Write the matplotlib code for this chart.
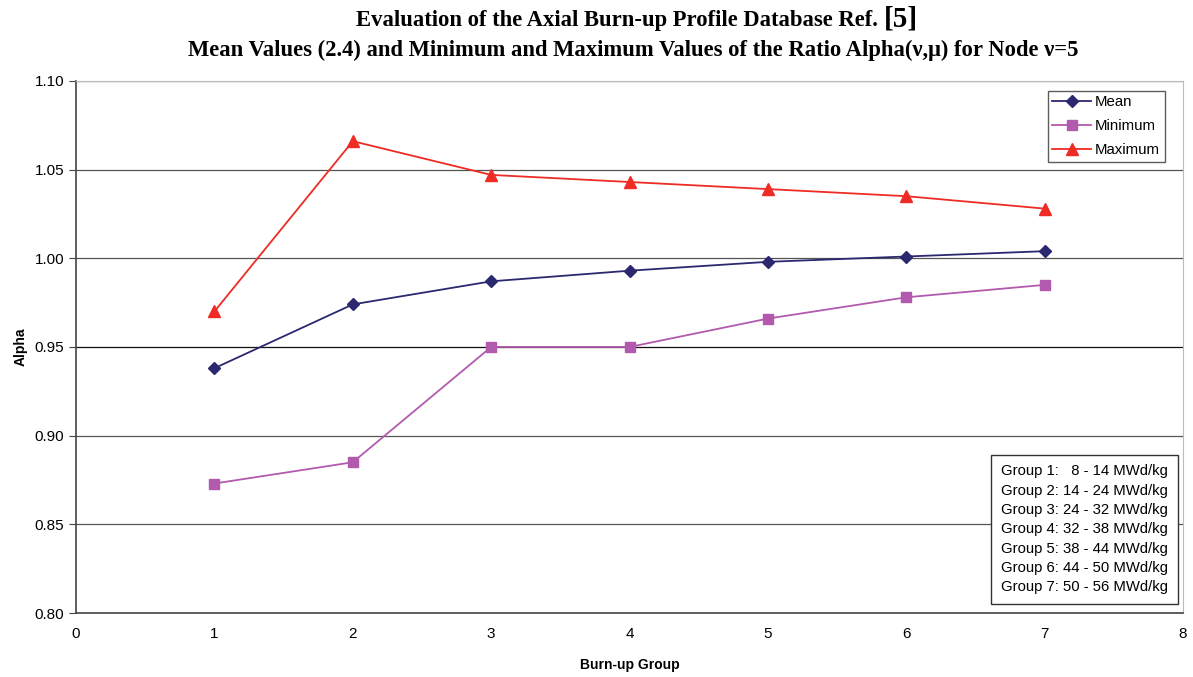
import matplotlib
matplotlib.use("Agg")
import matplotlib.pyplot as plt
from matplotlib.offsetbox import AnchoredText

plt.rcParams.update({
    "font.family": "Liberation Sans",
    "font.size": 11,
})

groups = [1, 2, 3, 4, 5, 6, 7]
mean_vals = [0.938, 0.974, 0.987, 0.993, 0.998, 1.001, 1.004]
min_vals = [0.873, 0.885, 0.950, 0.950, 0.966, 0.978, 0.985]
max_vals = [0.970, 1.066, 1.047, 1.043, 1.039, 1.035, 1.028]
group_ranges = ["  8 - 14", "14 - 24", "24 - 32", "32 - 38", "38 - 44", "44 - 50", "50 - 56"]

NAVY = "#2B2870"
MAGENTA = "#B25AAE"
RED = "#EE2B24"

fig = plt.figure(figsize=(11.93, 6.77), dpi=100)
ax = fig.add_axes([0.0637, 0.0945, 0.928, 0.786])

ax.plot(groups, mean_vals, "-D", color=NAVY, lw=1.3, ms=6, label="Mean", zorder=5)
ax.plot(groups, min_vals, "-s", color=MAGENTA, lw=1.3, ms=7, label="Minimum", zorder=5)
ax.plot(groups, max_vals, "-^", color=RED, lw=1.3, ms=8, label="Maximum", zorder=5)

ax.set_xlim(0, 8)
ax.set_ylim(0.80, 1.10)
ax.set_xticks(range(0, 9))
ax.set_yticks([0.80, 0.85, 0.90, 0.95, 1.00, 1.05, 1.10])
ax.set_yticklabels([f"{v:.2f}" for v in ax.get_yticks()])
ax.tick_params(axis="both", labelsize=11, color="#444444", length=5)
ax.tick_params(axis="x", length=0, pad=10)
ax.yaxis.grid(True, color="#555555", lw=0.9)
ax.get_ygridlines()[3].set_color("#111111")
ax.set_axisbelow(True)

for side in ["top", "right"]:
    ax.spines[side].set_color("#BBBBBB")
    ax.spines[side].set_linewidth(0.8)
for side in ["left", "bottom"]:
    ax.spines[side].set_color("#444444")
    ax.spines[side].set_linewidth(1.2)

ax.set_xlabel("Burn-up Group", fontsize=10, fontweight="bold", labelpad=12)
ax.set_ylabel("Alpha", fontsize=10, fontweight="bold", labelpad=5)

leg = ax.legend(loc="upper right", bbox_to_anchor=(0.990, 0.996), fontsize=10.8,
                frameon=True, fancybox=False, edgecolor="#333333",
                borderpad=0.3, labelspacing=0.68, handlelength=2.6, handletextpad=0.25)
leg.get_frame().set_linewidth(1.0)

txt = "\n".join(f"Group {g}: {r} MWd/kg" for g, r in zip(groups, group_ranges))
at = AnchoredText(txt, loc="lower right", bbox_to_anchor=(0.9918, 0.0244),
                  bbox_transform=ax.transAxes, frameon=True, borderpad=0.0,
                  prop=dict(fontsize=10.7, linespacing=1.48))
at.patch.set_boxstyle("square,pad=0.25")
at.patch.set_edgecolor("#333333")
at.patch.set_linewidth(1.0)
ax.add_artist(at)

# title, line 1 with a larger bracketed reference
fig.text(878 / 1193, 1 - 26 / 677, "Evaluation of the Axial Burn-up Profile Database Ref.",
         ha="right", va="baseline", family="Liberation Serif", fontweight="bold", fontsize=16.3)
fig.text(884 / 1193, 1 - 26 / 677, "[5]",
         ha="left", va="baseline", family="Liberation Serif", fontweight="bold", fontsize=21)
fig.text(633 / 1193, 1 - 56 / 677,
         "Mean Values (2.4) and Minimum and Maximum Values of the Ratio Alpha(\u03bd,\u03bc) for Node \u03bd=5",
         ha="center", va="baseline", family="Liberation Serif", fontweight="bold", fontsize=16.3)

fig.savefig("out.png", dpi=100)
